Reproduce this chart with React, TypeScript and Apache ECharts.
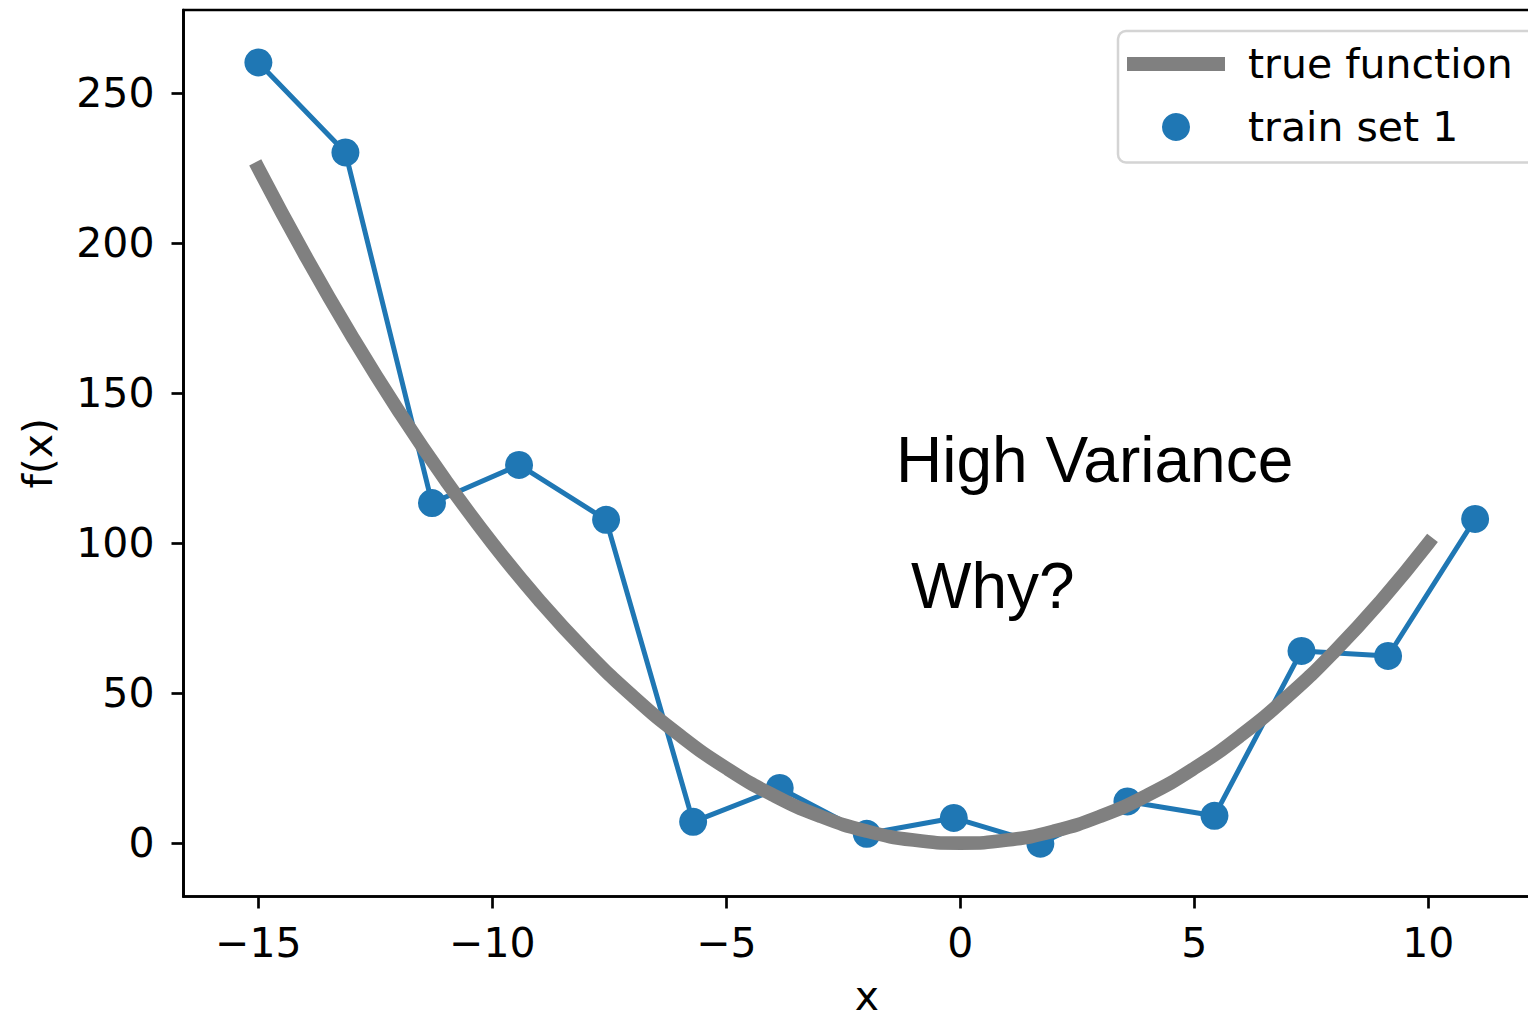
import React, { useEffect, useRef } from 'react';
import * as echarts from 'echarts';

const trainX = [-15, -13.14, -11.29, -9.43, -7.57, -5.71, -3.86, -2, -0.14, 1.71, 3.57, 5.43, 7.29, 9.14, 11];
const trainY = [260.3, 230.3, 113.4, 126.1, 107.8, 7.1, 18.4, 3.1, 8.4, -0.2, 13.9, 9.1, 64.1, 62.4, 108.1];

const trueX = [-15, -14, -13, -12, -11, -10, -9, -8, -7, -6, -5, -4, -3, -2, -1, 0, 1, 2, 3, 4, 5, 6, 7, 8, 9, 10];
const trueY = [225, 196, 169, 144, 121, 100, 81, 64, 49, 36, 25, 16, 9, 4, 1, 0, 1, 4, 9, 16, 25, 36, 49, 64, 81, 100];

const xTicks = [-15, -10, -5, 0, 5, 10];
const yTicks = [0, 50, 100, 150, 200, 250];

const legendNames = ['true function', 'train set 1'];
const annotations = ['High Variance', 'Why?'];

const fmt = (v: number) => (v < 0 ? '\u2212' + Math.abs(v) : String(v));

export default function App() {
  const ref = useRef<HTMLDivElement>(null);
  useEffect(() => {
    const chart = echarts.init(ref.current!, null, { renderer: 'svg' });
    const font = 'DejaVu Sans';
    const tickStyle = { color: '#000', width: 2.7 };
    chart.setOption({
      animation: false,
      backgroundColor: '#ffffff',
      grid: {
        left: 183.5,
        top: 10,
        right: 50,
        bottom: 118.5,
        show: true,
        borderColor: '#000',
        borderWidth: 2.7,
        containLabel: false,
        outerBoundsMode: 'none',
      },
      legend: {
        orient: 'vertical',
        left: 1118,
        top: 31,
        padding: [12.5, 24, 15, 9],
        itemGap: 22,
        itemWidth: 98,
        itemHeight: 28,
        borderColor: '#d4d4d4',
        borderWidth: 2.5,
        borderRadius: 8,
        backgroundColor: 'rgba(255,255,255,0.8)',
        textStyle: {
          fontSize: 41,
          fontFamily: font,
          color: '#000',
          lineHeight: 41,
          padding: [0, 0, 0, 18],
        },
        data: [
          { name: legendNames[0], icon: 'path://M0,0H98V14H0Z', itemStyle: { color: '#808080', borderWidth: 0 } },
          { name: legendNames[1], icon: 'circle', itemStyle: { color: '#1f77b4', borderWidth: 0, opacity: 1 } },
        ],
      },
      xAxis: {
        type: 'value',
        min: -16.6,
        max: 12.6,
        splitLine: { show: false },
        axisLine: { show: true, onZero: false, lineStyle: tickStyle },
        axisTick: { show: true, inside: false, length: 12, customValues: xTicks, lineStyle: tickStyle },
        axisLabel: {
          customValues: xTicks,
          formatter: fmt,
          fontSize: 41,
          fontFamily: font,
          color: '#000',
          margin: 26,
        },
        name: 'x',
        nameLocation: 'middle',
        nameGap: 84,
        nameTextStyle: { fontSize: 41, fontFamily: font, color: '#000', lineHeight: 30 },
      },
      yAxis: {
        type: 'value',
        min: -17.8,
        max: 277.8,
        splitLine: { show: false },
        axisLine: { show: true, onZero: false, lineStyle: tickStyle },
        axisTick: { show: true, inside: false, length: 12, customValues: yTicks, lineStyle: tickStyle },
        axisLabel: {
          customValues: yTicks,
          formatter: fmt,
          fontSize: 41,
          fontFamily: font,
          color: '#000',
          margin: 29,
        },
        name: 'f(x)',
        nameLocation: 'middle',
        nameRotate: 90,
        nameGap: 125,
        nameTextStyle: { fontSize: 41, fontFamily: font, color: '#000' },
      },
      graphic: [
        {
          id: 'a1',
          type: 'text',
          x: 896,
          y: 460,
          style: {
            text: annotations[0],
            fontSize: 64,
            fontFamily: 'Liberation Sans',
            fill: '#000',
            align: 'left',
            verticalAlign: 'middle',
          },
          z: 10,
        },
        {
          id: 'a2',
          type: 'text',
          x: 911,
          y: 586,
          style: {
            text: annotations[1],
            fontSize: 64,
            fontFamily: 'Liberation Sans',
            fill: '#000',
            align: 'left',
            verticalAlign: 'middle',
          },
          z: 10,
        },
      ],
      series: [
        {
          type: 'line',
          name: 'train path',
          data: trainX.map((x, i) => [x, trainY[i]]),
          showSymbol: false,
          symbol: 'none',
          lineStyle: { color: '#1f77b4', width: 5 },
          itemStyle: { color: '#1f77b4' },
          z: 2,
          silent: true,
        },
        {
          type: 'scatter',
          name: legendNames[1],
          data: trainX.map((x, i) => [x, trainY[i]]),
          symbolSize: 28,
          itemStyle: { color: '#1f77b4', opacity: 1 },
          z: 3,
          silent: true,
        },
        {
          type: 'line',
          name: legendNames[0],
          data: trueX.map((x, i) => [x, trueY[i]]),
          showSymbol: false,
          symbol: 'none',
          smooth: true,
          color: '#808080',
          lineStyle: { color: '#808080', width: 13.6, cap: 'square' },
          itemStyle: { color: '#808080' },
          z: 4,
          silent: true,
        },
      ],
    });
    return () => chart.dispose();
  }, []);
  return (
    <div
      style={{
        position: 'fixed',
        left: 0,
        top: 0,
        width: 1528,
        height: 1015,
        overflow: 'hidden',
        background: '#fff',
      }}
    >
      <div ref={ref} style={{ width: 1600, height: 1015 }} />
    </div>
  );
}
